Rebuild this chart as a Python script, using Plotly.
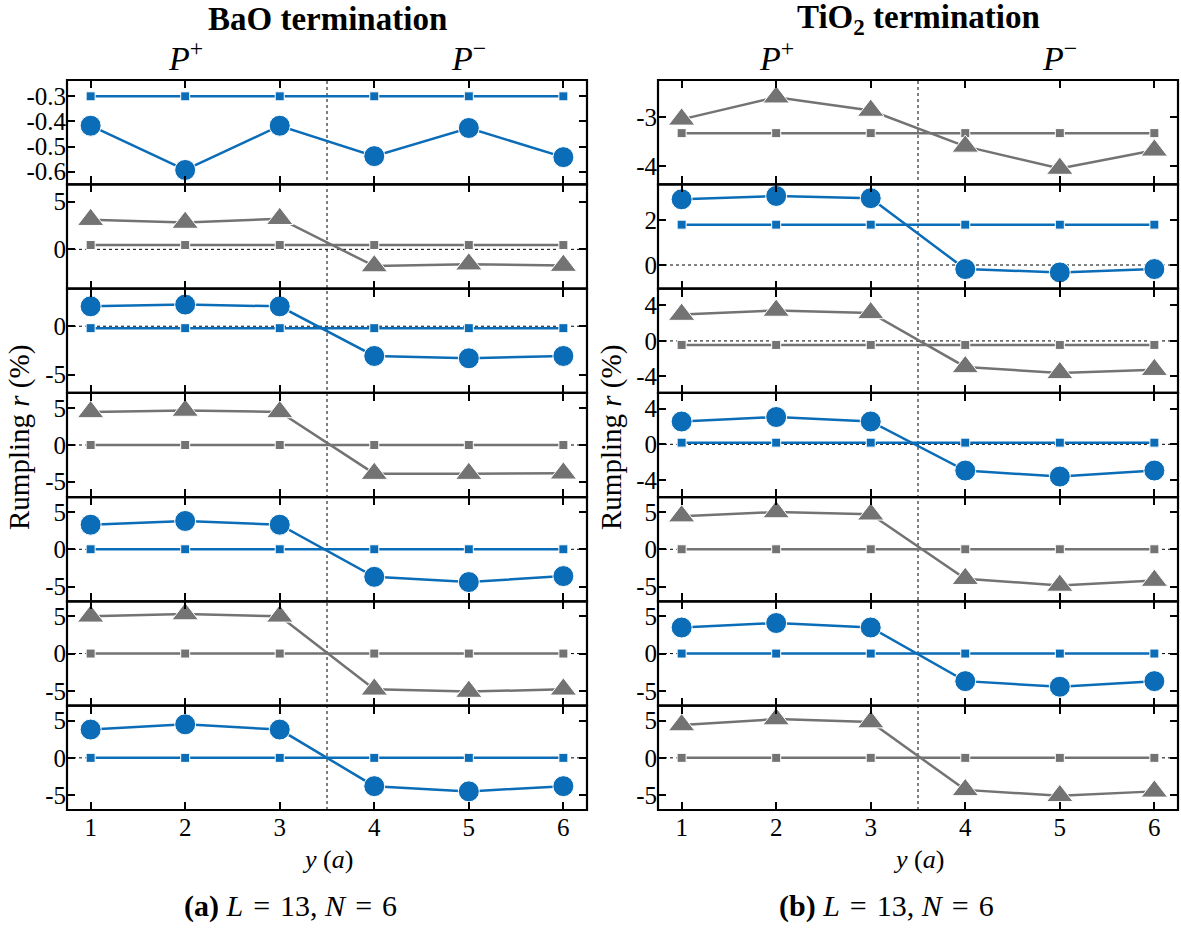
import plotly.graph_objects as go
from plotly.subplots import make_subplots

# ---------------- data ----------------
layers = [1, 2, 3, 4, 5, 6]

# BaO termination (left column), panels top to bottom
bao_sq_1 = [-0.30, -0.30, -0.30, -0.30, -0.30, -0.30]
bao_mk_1 = [-0.417, -0.593, -0.417, -0.538, -0.426, -0.542]
bao_sq_2 = [0.45, 0.45, 0.45, 0.45, 0.45, 0.45]
bao_mk_2 = [3.1, 2.8, 3.2, -1.75, -1.55, -1.7]
bao_sq_3 = [-0.2, -0.2, -0.2, -0.2, -0.2, -0.2]
bao_mk_3 = [2.06, 2.24, 2.06, -3.08, -3.32, -3.08]
bao_sq_4 = [0.0, 0.0, 0.0, 0.0, 0.0, 0.0]
bao_mk_4 = [4.5, 4.7, 4.5, -3.9, -3.9, -3.85]
bao_sq_5 = [0.0, 0.0, 0.0, 0.0, 0.0, 0.0]
bao_mk_5 = [3.3, 3.8, 3.3, -3.7, -4.4, -3.6]
bao_sq_6 = [0.0, 0.0, 0.0, 0.0, 0.0, 0.0]
bao_mk_6 = [5.0, 5.3, 5.0, -4.8, -5.1, -4.8]
bao_sq_7 = [0.0, 0.0, 0.0, 0.0, 0.0, 0.0]
bao_mk_7 = [3.8, 4.5, 3.8, -3.8, -4.5, -3.8]

# TiO2 termination (right column), panels top to bottom
tio_sq_1 = [-3.33, -3.33, -3.33, -3.33, -3.33, -3.33]
tio_mk_1 = [-3.05, -2.6, -2.87, -3.6, -4.05, -3.68]
tio_sq_2 = [1.8, 1.8, 1.8, 1.8, 1.8, 1.8]
tio_mk_2 = [2.93, 3.08, 2.98, -0.18, -0.33, -0.18]
tio_sq_3 = [-0.45, -0.45, -0.45, -0.45, -0.45, -0.45]
tio_mk_3 = [2.97, 3.43, 3.16, -2.93, -3.6, -3.24]
tio_sq_4 = [0.19, 0.19, 0.19, 0.19, 0.19, 0.19]
tio_mk_4 = [2.55, 3.05, 2.55, -2.93, -3.6, -2.93]
tio_sq_5 = [0.0, 0.0, 0.0, 0.0, 0.0, 0.0]
tio_mk_5 = [4.45, 5.0, 4.7, -3.95, -4.86, -4.2]
tio_sq_6 = [0.0, 0.0, 0.0, 0.0, 0.0, 0.0]
tio_mk_6 = [3.5, 4.1, 3.5, -3.7, -4.45, -3.7]
tio_sq_7 = [0.0, 0.0, 0.0, 0.0, 0.0, 0.0]
tio_mk_7 = [4.4, 5.2, 4.8, -4.3, -5.1, -4.5]

bao_series = [(bao_sq_1, bao_mk_1), (bao_sq_2, bao_mk_2), (bao_sq_3, bao_mk_3),
              (bao_sq_4, bao_mk_4), (bao_sq_5, bao_mk_5), (bao_sq_6, bao_mk_6),
              (bao_sq_7, bao_mk_7)]
tio_series = [(tio_sq_1, tio_mk_1), (tio_sq_2, tio_mk_2), (tio_sq_3, tio_mk_3),
              (tio_sq_4, tio_mk_4), (tio_sq_5, tio_mk_5), (tio_sq_6, tio_mk_6),
              (tio_sq_7, tio_mk_7)]

bao_kind = ["blue", "gray", "blue", "gray", "blue", "gray", "blue"]
tio_kind = ["gray", "blue", "gray", "blue", "gray", "blue", "gray"]

bao_ranges = [[-0.65, -0.235], [-4.1, 6.8], [-6.9, 3.9], [-7.1, 7.1], [-7, 7], [-7, 7], [-7, 7]]
tio_ranges = [[-4.37, -2.25], [-1.05, 3.6], [-5.85, 5.9], [-5.9, 5.75], [-7, 7], [-7, 7], [-7, 7]]

bao_ticks = [[-0.3, -0.4, -0.5, -0.6], [0, 5], [0, -5], [-5, 0, 5], [-5, 0, 5], [-5, 0, 5], [-5, 0, 5]]
bao_ticktext = [["-0.3", "-0.4", "-0.5", "-0.6"], ["0", "5"], ["0", "-5"], ["-5", "0", "5"],
                ["-5", "0", "5"], ["-5", "0", "5"], ["-5", "0", "5"]]
tio_ticks = [[-3, -4], [0, 2], [-4, 0, 4], [-4, 0, 4], [-5, 0, 5], [-5, 0, 5], [-5, 0, 5]]
tio_ticktext = [["-3", "-4"], ["0", "2"], ["-4", "0", "4"], ["-4", "0", "4"],
                ["-5", "0", "5"], ["-5", "0", "5"], ["-5", "0", "5"]]

x_ticks = [1, 2, 3, 4, 5, 6]

# ---------------- styling ----------------
BLUE = "#0b6db7"
GRAY = "#737373"
FONT = "Liberation Serif"
W, H = 1181, 929

col_x = [(67 / W, 587 / W), (658 / W, 1178 / W)]
top_px, bot_px = 80, 810
n = 7
ph = (bot_px - top_px) / n

fig = make_subplots(rows=7, cols=2, vertical_spacing=0, horizontal_spacing=0.05)

for c, (series, kinds, ranges, ticks, ttext) in enumerate(
        [(bao_series, bao_kind, bao_ranges, bao_ticks, bao_ticktext),
         (tio_series, tio_kind, tio_ranges, tio_ticks, tio_ticktext)]):
    for r in range(n):
        sq, mk = series[r]
        color = BLUE if kinds[r] == "blue" else GRAY
        symbol = "circle" if kinds[r] == "blue" else "triangle-up"
        msize = 21 if kinds[r] == "blue" else 23
        fig.add_trace(go.Scatter(
            x=layers, y=sq, mode="lines+markers",
            line=dict(color=color, width=2.5),
            marker=dict(symbol="square", size=9, color=color, line=dict(color="white", width=1)),
            showlegend=False), row=r + 1, col=c + 1)
        fig.add_trace(go.Scatter(
            x=layers, y=mk, mode="lines+markers",
            line=dict(color=color, width=2.5),
            marker=dict(symbol=symbol, size=msize, color=color, line=dict(color="white", width=1)),
            showlegend=False), row=r + 1, col=c + 1)

        y0 = 1 - (top_px + (r + 1) * ph) / H
        y1 = 1 - (top_px + r * ph) / H
        fig.update_xaxes(domain=list(col_x[c]), range=[0.75, 6.25],
                         tickvals=x_ticks, showticklabels=(r == n - 1),
                         ticks="inside", ticklen=8, tickwidth=2, tickcolor="black",
                         showline=False, mirror="allticks",
                         showgrid=False, zeroline=False,
                         tickfont=dict(family=FONT, size=25, color="black"),
                         row=r + 1, col=c + 1)
        fig.update_yaxes(domain=[y0, y1], range=ranges[r],
                         tickvals=ticks[r], ticktext=ttext[r],
                         ticks="inside", ticklen=8, tickwidth=2, tickcolor="black",
                         showline=False, mirror="allticks",
                         showgrid=False, zeroline=False,
                         tickfont=dict(family=FONT, size=25, color="black"),
                         row=r + 1, col=c + 1)

        idx = r * 2 + c + 1
        xr = "x" if idx == 1 else f"x{idx}"
        yr = "y" if idx == 1 else f"y{idx}"
        # dotted zero line
        if ranges[r][0] < 0 < ranges[r][1]:
            fig.add_shape(type="line", xref=xr, yref=yr, x0=0.75, x1=6.25, y0=0, y1=0,
                          line=dict(color="black", width=1, dash="dot"), layer="below")
        # panel frame
        fig.add_shape(type="rect", xref=f"{xr} domain", yref=f"{yr} domain",
                      x0=0, x1=1, y0=0, y1=1, line=dict(color="black", width=2.2),
                      fillcolor="rgba(0,0,0,0)", layer="above")

    # vertical dotted separator at x = 3.5
    idx_bottom = (n - 1) * 2 + c + 1
    fig.add_shape(type="line", xref=f"x{idx_bottom}", yref="paper", x0=3.5, x1=3.5,
                  y0=1 - bot_px / H, y1=1 - top_px / H,
                  line=dict(color="black", width=1, dash="dot"), layer="below")

annotations = []
centers = [(67 + 587) / 2 / W, (658 + 1178) / 2 / W]
cap_centers = [290 / W, 886 / W]
EQ = "\u2004=\u2004"
titles = ["<b>BaO termination</b>", "<b>TiO<sub>2</sub> termination</b>"]
captions = [f"<b>(a)</b> <i>L</i>{EQ}13, <i>N</i>{EQ}6", f"<b>(b)</b> <i>L</i>{EQ}13, <i>N</i>{EQ}6"]
for c in range(2):
    annotations.append(dict(text=titles[c], x=centers[c], y=1 - 19 / H, xref="paper", yref="paper",
                            showarrow=False, font=dict(family=FONT, size=33, color="black"),
                            xanchor="center", yanchor="middle"))
    x0p, x1p = col_x[c]
    for xv, lab in [(2, "<i>P</i><sup>+</sup>"), (5, "<i>P</i><sup>−</sup>")]:
        xp = x0p + (xv - 0.75) / 5.5 * (x1p - x0p)
        annotations.append(dict(text=lab, x=xp, y=1 - 56 / H, xref="paper", yref="paper",
                                showarrow=False, font=dict(family=FONT, size=34, color="black"),
                                xanchor="center", yanchor="middle"))
    annotations.append(dict(text="<i>y</i> (<i>a</i>)", x=centers[c], y=1 - 859 / H,
                            xref="paper", yref="paper", showarrow=False,
                            font=dict(family=FONT, size=26, color="black"),
                            xanchor="center", yanchor="middle"))
    annotations.append(dict(text=captions[c], x=cap_centers[c], y=1 - 906 / H,
                            xref="paper", yref="paper", showarrow=False,
                            font=dict(family=FONT, size=30, color="black"),
                            xanchor="center", yanchor="middle"))
    ylx = [20 / W, 612 / W][c]
    annotations.append(dict(text="Rumpling <i>r</i> (%)", x=ylx, y=1 - 438 / H,
                            xref="paper", yref="paper", showarrow=False, textangle=-90,
                            font=dict(family=FONT, size=29, color="black"),
                            xanchor="center", yanchor="middle"))

fig.update_layout(width=W, height=H, margin=dict(l=0, r=0, t=0, b=0),
                  paper_bgcolor="white", plot_bgcolor="white",
                  annotations=annotations, showlegend=False)

fig.write_html("out.html", config={"displayModeBar": False},
               post_script="document.body.style.margin='0';")
